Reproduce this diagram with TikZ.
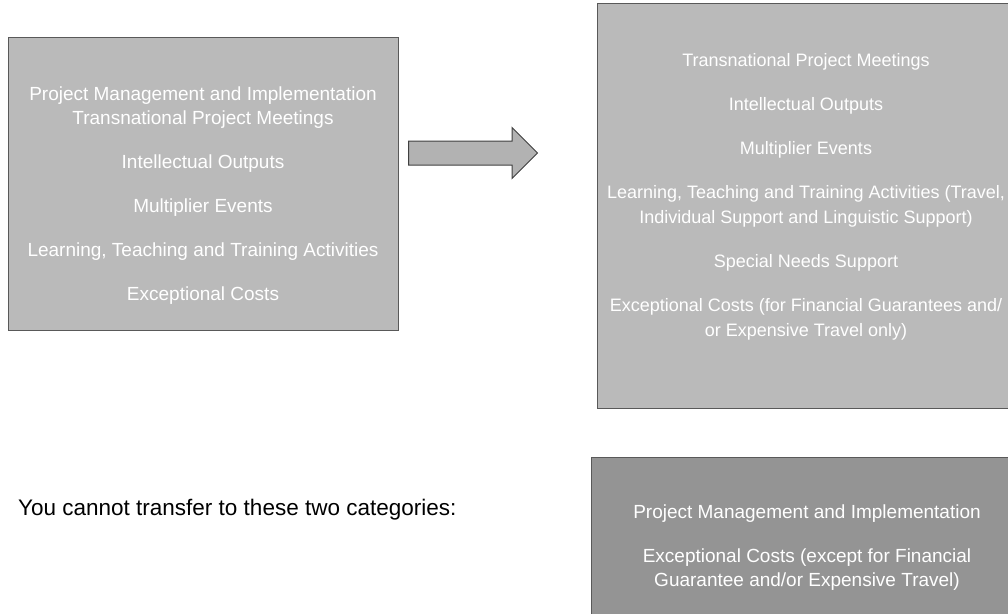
\documentclass[tikz,border=0pt]{standalone}
\usepackage{fontspec}
\setmainfont{Liberation Sans}
\usepackage{tikz}
\usetikzlibrary{shapes.arrows,positioning}

\begin{document}
\begin{tikzpicture}[panel/.style={rectangle, draw=black!65, line width=0.8pt, fill=black!27, inner sep=0pt},
  darkpanel/.style={panel, fill=black!42},
  paneltext/.style={text=white, align=center, inner sep=0pt, font=\fontsize{19pt}{24pt}\selectfont},
  bigarrow/.style={single arrow, draw=black!75, fill=black!30, line width=1pt, inner sep=0pt, inner ysep=11.5pt, minimum height=129pt, single arrow head extend=13.5pt}]
  \useasboundingbox (0pt, 0pt) rectangle (1008pt, -613pt);
  \draw (203.0pt, -183.5pt)node[panel, minimum width=390pt, minimum height=293pt](src){};
  \draw (815.0pt, -205.5pt)node[panel, minimum width=436pt, minimum height=405pt](dst){};
  \draw (810.0pt, -540.0pt)node[darkpanel, minimum width=438pt, minimum height=166pt](excl){};
  \draw (203.0pt, -196.0pt)node[paneltext](srctext){Project Management and Implementation\\Transnational Project Meetings\\[20pt]Intellectual Outputs\\[20pt]Multiplier Events\\[20pt]Learning, Teaching and Training Activities\\[20pt]Exceptional Costs};
  \draw (806.0pt, -197.0pt)node[paneltext, font=\fontsize{18pt}{25pt}\selectfont](dsttext){Transnational Project Meetings\\[19pt]Intellectual Outputs\\[19pt]Multiplier Events\\[19pt]Learning, Teaching and Training Activities (Travel,\\Individual Support and Linguistic Support)\\[19pt]Special Needs Support\\[19pt]Exceptional Costs (for Financial Guarantees and/\\or Expensive Travel only)};
  \draw (807.0pt, -548.0pt)node[paneltext](excltext){Project Management and Implementation\\[20pt]Exceptional Costs (except for Financial\\Guarantee and/or Expensive Travel)};
  \draw (467.0pt, -153.0pt)node[bigarrow](arr){};
  \draw (18.0pt, -510.0pt)node[anchor=west, inner sep=0pt, font=\fontsize{22.5pt}{27pt}\selectfont](note){You cannot transfer to these two categories:};
\end{tikzpicture}
\end{document}
